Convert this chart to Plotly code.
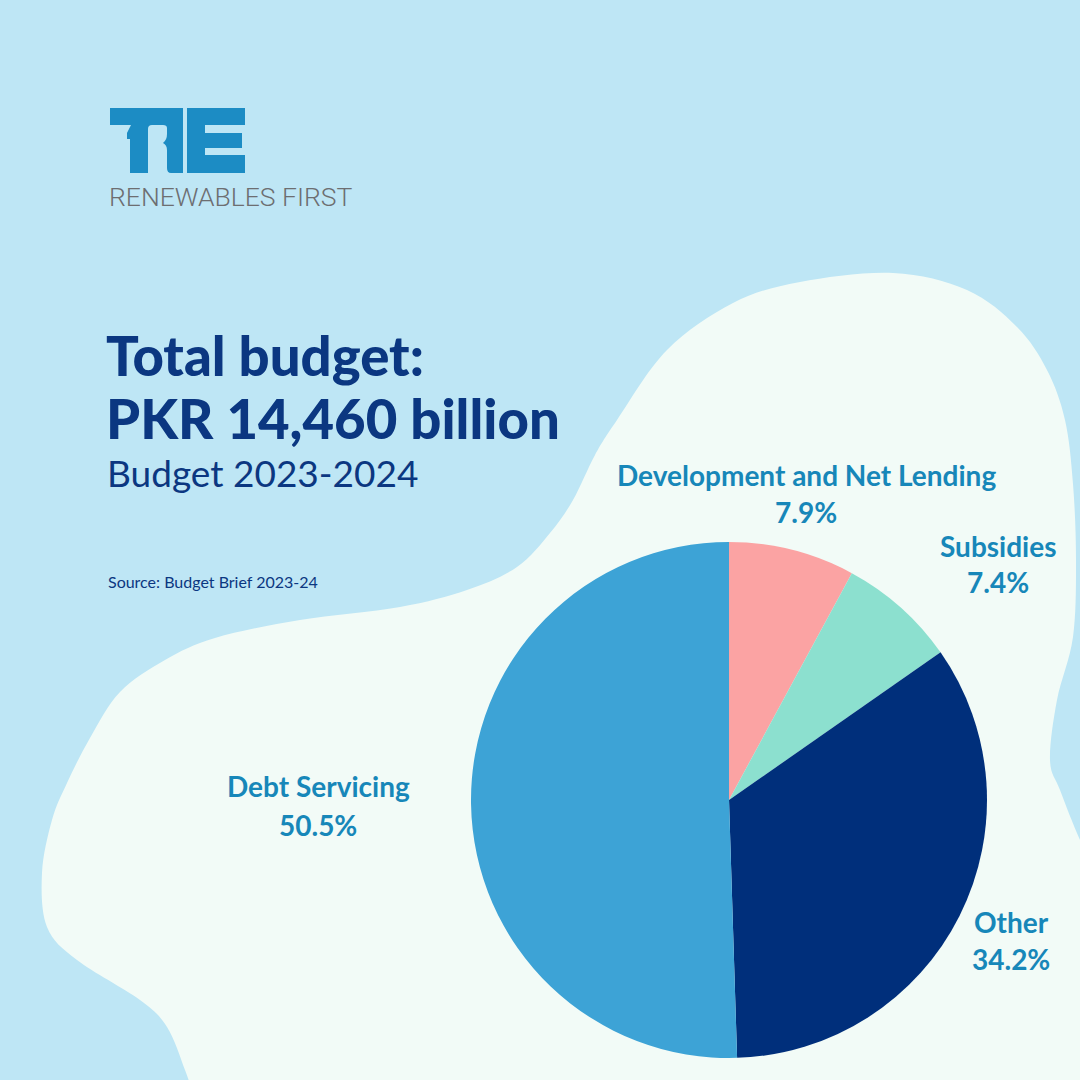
import plotly.graph_objects as go

# ---- data ----
categories = ["Development and Net Lending", "Subsidies", "Other", "Debt Servicing"]
shares = [7.9, 7.4, 34.2, 50.5]
slice_colors = ["#FBA3A3", "#8CE0CF", "#002F7B", "#3DA3D6"]

title_lines = ["Total budget:", "PKR 14,460 billion"]
subtitle = "Budget 2023-2024"
source_note = "Source: Budget Brief 2023-24"
brand = "RENEWABLES FIRST"

W = H = 1080
BG = "#BEE6F5"
BLOB = "#F2FBF7"
NAVY = "#0B3781"
LABEL = "#1787B9"
LOGO = "#1C8CC4"


def px(x):
    return x / W


def py(y):
    return 1 - y / H


def smooth_path(pts):
    # Catmull-Rom -> cubic bezier, pixel coords converted to paper
    s = f"M{px(pts[0][0]):.5f},{py(pts[0][1]):.5f} "
    n = len(pts)
    for i in range(n - 1):
        p0 = pts[i - 1] if i > 0 else pts[i]
        p1 = pts[i]
        p2 = pts[i + 1]
        p3 = pts[i + 2] if i + 2 < n else pts[i + 1]
        c1 = (p1[0] + (p2[0] - p0[0]) / 6, p1[1] + (p2[1] - p0[1]) / 6)
        c2 = (p2[0] - (p3[0] - p1[0]) / 6, p2[1] - (p3[1] - p1[1]) / 6)
        s += (f"C{px(c1[0]):.5f},{py(c1[1]):.5f} {px(c2[0]):.5f},{py(c2[1]):.5f} "
              f"{px(p2[0]):.5f},{py(p2[1]):.5f} ")
    return s


blob_pts = [(195, 1100), (185, 1070), (167, 1027), (140, 1000), (77, 960), (47, 927),
            (42, 873), (52, 820), (67, 783), (90, 738), (120, 692), (165, 660),
            (215, 638), (300, 620), (400, 607), (467, 590), (517, 567), (550, 533),
            (573, 500), (595, 455), (617, 420), (667, 350), (733, 303), (800, 282),
            (893, 273), (967, 290), (1017, 327), (1047, 370), (1065, 420), (1073, 484),
            (1076, 560), (1073, 637), (1057, 700), (1050, 760), (1060, 790), (1080, 840),
            (1100, 880)]
blob_path = smooth_path(blob_pts) + f"L{px(1100):.5f},{py(1100):.5f} Z"


def poly(cmds):
    out = ""
    for c in cmds:
        if c == "Z":
            out += "Z"
        else:
            op = c[0]
            nums = c[1:]
            coords = []
            for k in range(0, len(nums), 2):
                coords.append(f"{px(nums[k]):.5f},{py(nums[k + 1]):.5f}")
            out += op + " ".join(coords) + " "
    return out


R_path = poly([("M", 110, 108), ("L", 183, 108), ("L", 183, 173), ("L", 171, 173),
               ("Q", 167, 173, 167, 168), ("L", 167, 150), ("Q", 167, 145, 163, 143),
               ("Q", 167, 140, 167, 134), ("L", 167, 128), ("Q", 167, 125, 163, 125),
               ("L", 152, 125), ("Q", 148, 125, 148, 129),
               ("L", 148, 173), ("L", 130, 173), ("L", 130, 139), ("L", 127, 139),
               ("L", 127, 133), ("L", 131, 125), ("L", 110, 125), "Z"])
E_path = poly([("M", 187, 108), ("L", 245, 108), ("L", 245, 125), ("L", 205, 125),
               ("L", 205, 133), ("L", 242, 133), ("L", 242, 148), ("L", 205, 148),
               ("L", 205, 155), ("L", 245, 155), ("L", 245, 173), ("L", 187, 173), "Z"])

fig = go.Figure()

fig.add_trace(go.Pie(
    labels=categories,
    values=shares,
    marker=dict(colors=slice_colors, line=dict(width=0)),
    sort=False,
    direction="clockwise",
    rotation=0,
    textinfo="none",
    hovertemplate="%{label}: %{value}%<extra></extra>",
    domain=dict(x=[px(471), px(987)], y=[py(1058), py(542)]),
    showlegend=False,
))

shapes = [
    dict(type="path", path=blob_path, xref="paper", yref="paper",
         fillcolor=BLOB, line=dict(width=0), layer="below"),
    dict(type="path", path=R_path, xref="paper", yref="paper",
         fillcolor=LOGO, line=dict(width=0), layer="below"),
    dict(type="path", path=E_path, xref="paper", yref="paper",
         fillcolor=LOGO, line=dict(width=0), layer="below"),
]

annotations = []


def add_text(text, x, y, size, color, weight="normal", family="Lato", xanchor="left"):
    annotations.append(dict(
        text=text, x=px(x), y=py(y), xref="paper", yref="paper",
        xanchor=xanchor, yanchor="middle", showarrow=False,
        font=dict(family=family, size=size, color=color, weight=weight),
    ))


add_text(brand, 107, 197, 26.5, "#6D6E71", weight=300, family="Roboto")
add_text(title_lines[0], 104, 355, 54.5, NAVY, weight=900)
add_text(title_lines[1], 104, 418, 54.5, NAVY, weight=900)
add_text(subtitle, 105, 472, 37, NAVY)
add_text(source_note, 106, 581, 16, NAVY)

# slice labels (name line + percentage line)
label_pos = {
    "Development and Net Lending": (806, 475, 512),
    "Subsidies": (998, 546, 582),
    "Other": (1011, 922, 959),
    "Debt Servicing": (318, 786, 825),
}
for cat, val in zip(categories, shares):
    x, y1, y2 = label_pos[cat]
    add_text(cat, x, y1, 28, LABEL, weight="bold", xanchor="center")
    add_text(f"{val}%", x, y2, 28, LABEL, weight="bold", xanchor="center")

fig.update_layout(
    width=W, height=H,
    margin=dict(l=0, r=0, t=0, b=0),
    paper_bgcolor=BG,
    plot_bgcolor=BG,
    shapes=shapes,
    annotations=annotations,
    showlegend=False,
)

fig.write_html("out.html", config={"displayModeBar": False},
               post_script="document.body.style.margin='0px';")
